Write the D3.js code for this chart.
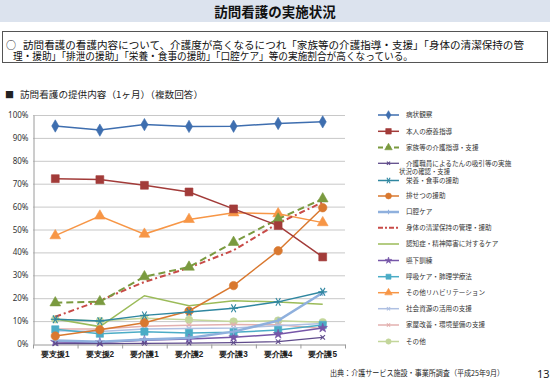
<!DOCTYPE html>
<html><head><meta charset="utf-8">
<script src="https://cdn.jsdelivr.net/npm/d3@7"></script>
<style>
html,body{margin:0;padding:0;background:#fff;}
svg{display:block;font-family:"Noto Sans CJK JP","Noto Sans",sans-serif;}
</style></head>
<body>
<svg id="c" width="550" height="386"></svg>
<script>
const categories = ["要支援1","要支援2","要介護1","要介護2","要介護3","要介護4","要介護5"];
const yTicks = [0,10,20,30,40,50,60,70,80,90,100];
const seriesNames = ["病状観察","本人の療養指導","家族等の介護指導・支援","介護職員によるたんの吸引等の実施状況の確認・支援","栄養・食事の援助","排せつの援助","口腔ケア","身体の清潔保持の管理・援助","認知症・精神障害に対するケア","嚥下訓練","呼吸ケア・肺理学療法","その他リハビリテーション","社会資源の活用の支援","家屋改善・環境整備の支援","その他"];
const v_byojo    = [95.2, 93.4, 95.8, 95.0, 95.1, 96.3, 97.0];
const v_honnin   = [72.2, 71.8, 69.3, 66.4, 59.0, 51.7, 38.0];
const v_kazoku   = [18.0, 18.5, 29.4, 33.6, 44.4, 54.6, 63.4];
const v_tan      = [0.2, 0.2, 0.3, 0.4, 0.6, 1.0, 2.9];
const v_eiyo     = [10.8, 10.0, 12.5, 14.0, 15.6, 18.4, 22.8];
const v_haisetsu = [3.5, 6.2, 9.3, 14.4, 25.5, 40.7, 59.5];
const v_koku     = [1.5, 1.0, 2.0, 2.6, 5.4, 10.2, 22.4];
const v_seiketsu = [11.9, 19.0, 27.1, 33.3, 40.9, 52.7, 61.9];
const v_ninchi   = [10.9, 7.6, 21.1, 16.7, 18.9, 18.3, 17.4];
const v_enge     = [0.9, 0.7, 1.6, 2.2, 2.9, 4.3, 7.0];
const v_kokyu    = [6.4, 4.5, 5.4, 4.8, 5.1, 6.1, 8.3];
const v_riha     = [47.3, 55.9, 48.0, 54.4, 57.3, 56.9, 53.0];
const v_shakai   = [5.8, 5.5, 6.5, 6.8, 7.0, 8.0, 9.0];
const v_kaoku    = [6.5, 6.6, 7.8, 8.2, 8.5, 8.4, 6.8];
const v_sonota   = [10.8, 10.0, 11.2, 10.6, 9.8, 10.2, 9.5];

const seriesValues = [v_byojo,v_honnin,v_kazoku,v_tan,v_eiyo,v_haisetsu,v_koku,v_seiketsu,v_ninchi,v_enge,v_kokyu,v_riha,v_shakai,v_kaoku,v_sonota];

const styles = [
 {c:"#3E6EAF", w:1.5, m:"diamond", s:44},
 {c:"#A23B39", w:1.5, m:"square", s:62},
 {c:"#7A9A3F", w:2, dash:"7,4", m:"triangle", s:50},
 {c:"#5F4B8B", w:1.3, m:"x", s:18},
 {c:"#2F87A0", w:1.5, m:"star6", s:40},
 {c:"#D9782F", w:1.5, m:"circle", s:56},
 {c:"#8FB0DD", w:2.5, m:"plus", s:20},
 {c:"#C84B48", w:2, dash:"6,3,2,3", m:null},
 {c:"#9BBB59", w:1.5, m:null},
 {c:"#7656A8", w:1.5, m:"star", s:28},
 {c:"#4BACC6", w:1.5, m:"square", s:52},
 {c:"#F79646", w:1.5, m:"triangle", s:50},
 {c:"#AFC0E2", w:1.5, m:"x", s:18},
 {c:"#E3B0AF", w:1.5, m:"x", s:18},
 {c:"#C3D69B", w:1.5, m:"circle", s:46}
];

const svg = d3.select("#c");

// title bar
svg.append("rect").attr("x",0).attr("y",0).attr("width",550).attr("height",22).attr("fill","#DCE3EE");
svg.append("text").attr("x",275).attr("y",16.5).attr("text-anchor","middle")
  .attr("font-size",13.5).attr("font-weight","bold").attr("fill","#111").text("訪問看護の実施状況");

// summary box
svg.append("rect").attr("x",2.5).attr("y",31.5).attr("width",545).attr("height",31).attr("fill","#fff").attr("stroke","#555").attr("stroke-width",1);
svg.append("text").attr("x",6).attr("y",48.5).attr("font-size",10).attr("fill","#111").text("○");
svg.append("text").attr("x",23).attr("y",48.5).attr("font-size",10.6).attr("fill","#111")
  .attr("textLength",501).attr("lengthAdjust","spacingAndGlyphs")
  .text("訪問看護の看護内容について、介護度が高くなるにつれ「家族等の介護指導・支援」「身体の清潔保持の管");
svg.append("text").attr("x",13).attr("y",60).attr("font-size",10.6).attr("fill","#111")
  .attr("textLength",400).attr("lengthAdjust","spacingAndGlyphs")
  .text("理・援助」「排泄の援助」「栄養・食事の援助」「口腔ケア」等の実施割合が高くなっている。");

// chart subtitle
svg.append("text").attr("x",5).attr("y",97.5).attr("font-size",9).attr("fill","#222").text("■");
svg.append("text").attr("x",20).attr("y",97.5).attr("font-size",9.2).attr("fill","#222")
  .attr("textLength",183).attr("lengthAdjust","spacingAndGlyphs")
  .text("訪問看護の提供内容（1ヶ月）（複数回答）");

// scales
const x = d3.scaleBand().domain(categories).range([33,345]);
const y = d3.scaleLinear().domain([0,100]).range([344,115]);

// gridlines
svg.append("g").selectAll("line").data(yTicks.filter(d=>d>0)).join("line")
  .attr("x1",33).attr("x2",345).attr("y1",d=>y(d)+0.5).attr("y2",d=>y(d)+0.5)
  .attr("stroke","#C8C8C8").attr("stroke-width",1);

// y axis
const yAxis = d3.axisLeft(y).tickValues(yTicks).tickFormat(d=>d+"%").tickSize(0).tickPadding(5);
const gy = svg.append("g").attr("transform","translate(33.5,0)").call(yAxis);
gy.select(".domain").attr("stroke","#9A9A9A");
gy.selectAll("text").attr("font-size",8).attr("fill","#333").attr("font-family","Noto Sans, sans-serif");

// x axis
const xAxis = d3.axisBottom(x).tickSize(0).tickPadding(7);
const gx = svg.append("g").attr("transform","translate(0,344.5)").call(xAxis);
gx.select(".domain").attr("stroke","#9A9A9A");
gx.selectAll("text").attr("font-size",8.2).attr("fill","#222").attr("font-weight","bold");
// band boundary ticks
gx.append("g").selectAll("line").data(categories.map(c=>x(c)).concat([x.range()[1]])).join("line")
  .attr("x1",d=>d+0.5).attr("x2",d=>d+0.5).attr("y1",0).attr("y2",4).attr("stroke","#9A9A9A");

const cx = c => x(c) + x.bandwidth()/2;

function symbolFor(m){
  switch(m){
    case "diamond": return d3.symbolDiamond;
    case "square": return d3.symbolSquare;
    case "triangle": return d3.symbolTriangle;
    case "circle": return d3.symbolCircle;
    case "star": return d3.symbolStar;
  }
  return d3.symbolCircle;
}
function drawMarker(g, st, px, py, scale){
  const sc = scale||1;
  if(!st.m) return;
  if(st.m==="x" || st.m==="plus" || st.m==="star6"){
    const r = (st.m==="star6"?4.5:3.2)*sc;
    const angs = st.m==="x" ? [45,135] : (st.m==="plus"?[0,90]:[0,60,120]);
    angs.forEach(a=>{
      const rad=a*Math.PI/180;
      g.append("line").attr("x1",px-r*Math.cos(rad)).attr("y1",py-r*Math.sin(rad))
        .attr("x2",px+r*Math.cos(rad)).attr("y2",py+r*Math.sin(rad))
        .attr("stroke",st.c).attr("stroke-width",1.1);
    });
    return;
  }
  g.append("path").attr("d",d3.symbol().type(symbolFor(st.m)).size(st.s*sc*sc)())
    .attr("transform",`translate(${px},${py})`).attr("fill",st.c).attr("stroke",st.c).attr("stroke-width",0.6);
}

// draw series: back to front (reverse so first series on top)
const plot = svg.append("g");
const order = d3.range(seriesValues.length).reverse();
order.forEach(i=>{
  const st = styles[i];
  const vals = seriesValues[i];
  const g = plot.append("g");
  const line = d3.line().x((d,j)=>cx(categories[j])).y(d=>y(d));
  g.append("path").datum(vals).attr("d",line).attr("fill","none")
    .attr("stroke",st.c).attr("stroke-width",st.w).attr("stroke-dasharray",st.dash||null);
  vals.forEach((v,j)=>drawMarker(g, st, cx(categories[j]), y(v)));
});

// legend
const legendNames = ["病状観察","本人の療養指導","家族等の介護指導・支援","介護職員によるたんの吸引等の実施","栄養・食事の援助","排せつの援助","口腔ケア","身体の清潔保持の管理・援助","認知症・精神障害に対するケア","嚥下訓練","呼吸ケア・肺理学療法","その他リハビリテーション","社会資源の活用の支援","家屋改善・環境整備の支援","その他"];
const legendY = [115,131.3,147.6,163.3,180.5,196,212,227.7,244,260.5,276.7,292.7,308.7,325,341.5];
const lg = svg.append("g");
legendNames.forEach((n,i)=>{
  const st = styles[i];
  const yy = legendY[i];
  lg.append("line").attr("x1",378).attr("x2",399).attr("y1",yy).attr("y2",yy)
    .attr("stroke",st.c).attr("stroke-width",st.w).attr("stroke-dasharray",st.dash?(i===7?"5,2,2,2":"5,3"):null);
  drawMarker(lg, st, 388.5, yy, 0.7);
  lg.append("text").attr("x",406).attr("y",yy+2.4).attr("font-size",6.6).attr("fill","#333").text(n);
});
lg.append("text").attr("x",399).attr("y",173.6).attr("font-size",6.4).attr("fill","#333").text("状況の確認・支援");

// source & page number
svg.append("text").attr("x",330).attr("y",376).attr("font-size",7.8).attr("fill","#222")
  .attr("textLength",174).attr("lengthAdjust","spacingAndGlyphs")
  .text("出典：介護サービス施設・事業所調査（平成25年9月）");
svg.append("text").attr("x",537).attr("y",378).attr("font-size",11).attr("fill","#222").attr("font-family","Noto Sans, sans-serif").text("13");
</script>
</body></html>
